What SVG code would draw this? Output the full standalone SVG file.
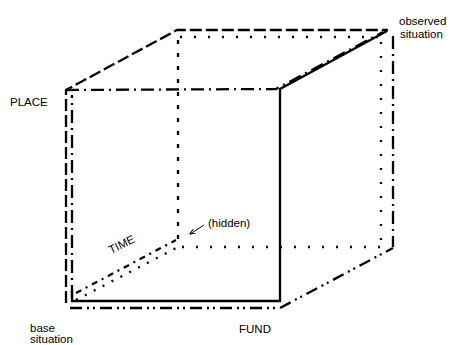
<svg xmlns="http://www.w3.org/2000/svg" width="450" height="345" viewBox="0 0 450 345">
  <style>
    .edge { fill: none; stroke: #000; stroke-width: 2.3; }
    .dash { stroke-dasharray: 12 4; }
    .dashdot { stroke-dasharray: 13 5 2 5; }
    .dashdotdot { stroke-dasharray: 12 5 2 4 2 5; }
    .dot { stroke-dasharray: 2 12; }
    .dotv { stroke-dasharray: 4 9; }
    .lbl { font-family: "Liberation Sans", Arial, sans-serif; font-size: 11.5px; fill: #000; }
  </style>
  <defs>
    <marker id="arr" viewBox="0 0 10 10" refX="9" refY="5" markerWidth="6" markerHeight="6" orient="auto">
      <path d="M0,1 L10,5 L0,9" fill="none" stroke="#000" stroke-width="1.6"/>
    </marker>
  </defs>

  <g id="connectors">
    <!-- base box: long dashes -->
    <path class="edge dash" d="M66,303 L66,90 L177,30 L388,30"/>
    <!-- intermediate box: dash-dot -->
    <path class="edge dashdot" d="M72,298 L72,95"/>
    <path class="edge dashdot" d="M66,90 L276,89 L383,32"/>
    <path class="edge dashdot" d="M393,36 L393,247"/>
    <!-- hidden box: dotted -->
    <path class="edge dot" d="M180,37 L382,37"/>
    <path class="edge dotv" d="M178,40 L178,240"/>
    <path class="edge dot" d="M182,247 L382,247"/>
    <path class="edge dot" d="M381,42 L381,245"/>
    <!-- time edges -->
    <path class="edge" style="stroke-dasharray: 6 5 2 5" d="M76,293 L176,240"/>
    <path class="edge dot" style="stroke-dasharray: 2 8" d="M76,300 L178,247"/>
    <!-- bottom edges: dash-dot-dot -->
    <path class="edge dashdotdot" d="M70,308 L280,308 L393,248"/>
    <!-- observed box: solid -->
    <path class="edge" d="M72,290 L72,301 L280,301 L280,89 L387,31"/>
    <!-- pointer to hidden corner -->
    <path d="M204,225 L190,234" fill="none" stroke="#000" stroke-width="1" marker-end="url(#arr)"/>
  </g>

  <g id="place"><text class="lbl" x="10" y="106">PLACE</text></g>
  <g id="observed"><text class="lbl" x="399" y="25">observed</text><text class="lbl" x="400" y="38">situation</text></g>
  <g id="hidden"><text class="lbl" x="208" y="227">(hidden)</text></g>
  <g id="time"><text class="lbl" transform="translate(111,254) rotate(-26)">TIME</text></g>
  <g id="base"><text class="lbl" x="30" y="332">base</text><text class="lbl" x="30" y="343">situation</text></g>
  <g id="fund"><text class="lbl" x="239" y="333">FUND</text></g>
</svg>
